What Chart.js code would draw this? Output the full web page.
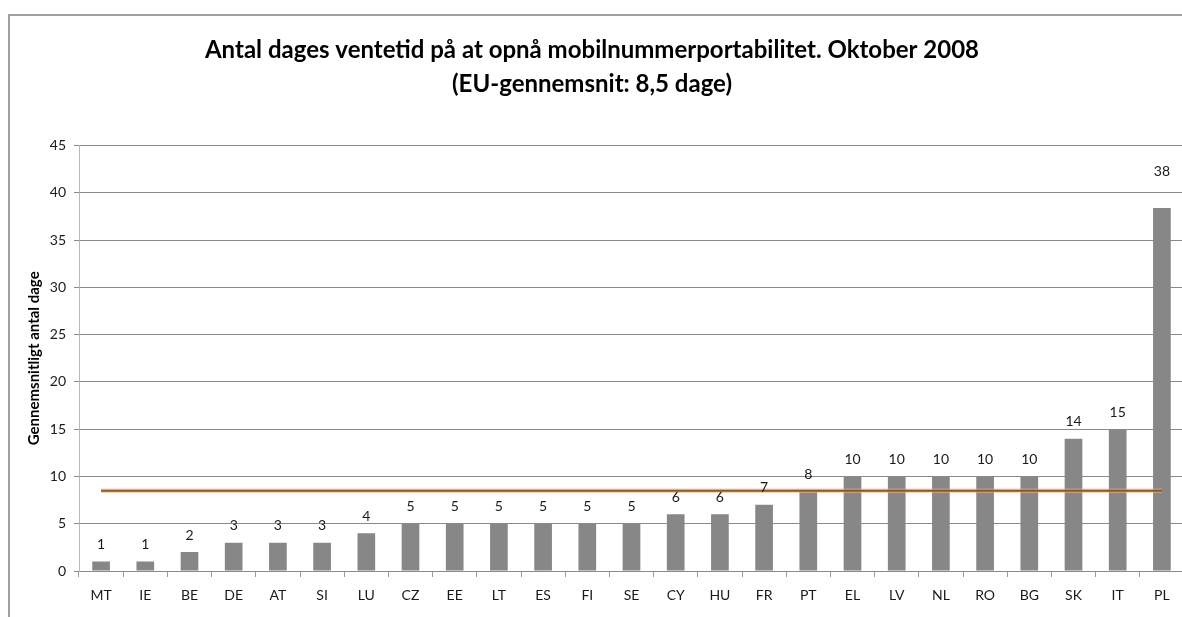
<!DOCTYPE html>
<html>
<head>
<meta charset="utf-8">
<script src="https://cdn.jsdelivr.net/npm/chart.js@4.4.0/dist/chart.umd.min.js"></script>
<style>
  html, body { margin: 0; padding: 0; background: #fff; overflow: hidden; width: 1182px; height: 617px; }
  #frame { position: absolute; left: 8px; top: 14px; width: 1300px; height: 800px; border: 2px solid #a0a0a0; box-sizing: border-box; }
  #wrap { position: absolute; left: 0; top: 0; width: 1190px; height: 617px; }
</style>
</head>
<body>
<div id="frame"></div>
<div id="wrap"><canvas id="c" width="1190" height="617"></canvas></div>
<script>
const categories = ['MT','IE','BE','DE','AT','SI','LU','CZ','EE','LT','ES','FI','SE','CY','HU','FR','PT','EL','LV','NL','RO','BG','SK','IT','PL'];
const days = [1, 1, 2, 3, 3, 3, 4, 5, 5, 5, 5, 5, 5, 6, 6, 7, 8.4, 10, 10, 10, 10, 10, 14, 15, 38.4];
const euAverage = [8.5, 8.5, 8.5, 8.5, 8.5, 8.5, 8.5, 8.5, 8.5, 8.5, 8.5, 8.5, 8.5, 8.5, 8.5, 8.5, 8.5, 8.5, 8.5, 8.5, 8.5, 8.5, 8.5, 8.5, 8.5];
const yTicks = [0, 5, 10, 15, 20, 25, 30, 35, 40, 45];
const titleLines = ['Antal dages ventetid på at opnå mobilnummerportabilitet. Oktober 2008', '(EU-gennemsnit: 8,5 dage)'];
const yTitle = 'Gennemsnitligt antal dage';

const FONT = 'Lato, "Open Sans", sans-serif';

const valueLabels = {
  id: 'valueLabels',
  afterDatasetsDraw(chart) {
    const meta = chart.getDatasetMeta(2);
    const ctx = chart.ctx;
    const maxV = Math.max(...days);
    ctx.save();
    ctx.font = '14px ' + FONT;
    ctx.fillStyle = '#1a1a1a';
    ctx.textAlign = 'center';
    ctx.textBaseline = 'middle';
    meta.data.forEach((bar, i) => {
      const v = days[i];
      const off = v === maxV ? 37 : 17;
      ctx.fillText(String(Math.round(v)), bar.x, bar.y - off);
    });
    ctx.restore();
  }
};

new Chart(document.getElementById('c'), {
  type: 'bar',
  data: {
    labels: categories,
    datasets: [
      {
        type: 'line', label: 'EU-gennemsnit', data: euAverage,
        borderColor: '#805a37', borderWidth: 2, pointRadius: 0, order: 0, fill: false, tension: 0
      },
      {
        type: 'line', label: 'glow', data: euAverage,
        borderColor: 'rgba(242,178,120,0.6)', borderWidth: 4.5, pointRadius: 0, order: 1, fill: false, tension: 0
      },
      {
        type: 'bar', label: 'Dage', data: days,
        backgroundColor: '#878787', categoryPercentage: 1, barPercentage: 0.4, order: 2
      }
    ]
  },
  options: {
    responsive: false,
    animation: false,
    layout: { padding: { left: 0, right: 6, top: 0, bottom: 0 } },
    plugins: {
      legend: { display: false },
      tooltip: { enabled: false },
      title: {
        display: true,
        text: titleLines,
        color: '#000',
        font: { family: FONT, size: 24, weight: 'bold', lineHeight: 1.4 },
        padding: { top: 33.4, bottom: 45 }
      }
    },
    scales: {
      x: {
        offset: true,
        grid: { display: true, drawOnChartArea: false, offset: true, color: '#9a9a9a', tickLength: 6, tickWidth: 1 },
        border: { color: '#8a8a8a', width: 1 },
        ticks: { color: '#1a1a1a', font: { family: FONT, size: 14 }, padding: 10, maxRotation: 0, autoSkip: false },
        afterFit(s) { s.height = 46; }
      },
      y: {
        min: 0, max: 45,
        afterBuildTicks(s) { s.ticks = yTicks.map(v => ({ value: v })); },
        grid: { color: '#8a8a8a', tickLength: 5, lineWidth: 1 },
        border: { color: '#b8b8b8', width: 1 },
        ticks: { color: '#1a1a1a', font: { family: FONT, size: 14 }, padding: 8 },
        title: { display: true, text: yTitle, color: '#000', font: { family: FONT, size: 15, weight: 'bold' }, padding: { top: 25, bottom: 0 } },
        afterFit(s) { s.width = 79; }
      }
    }
  },
  plugins: [valueLabels]
});
</script>
</body>
</html>
